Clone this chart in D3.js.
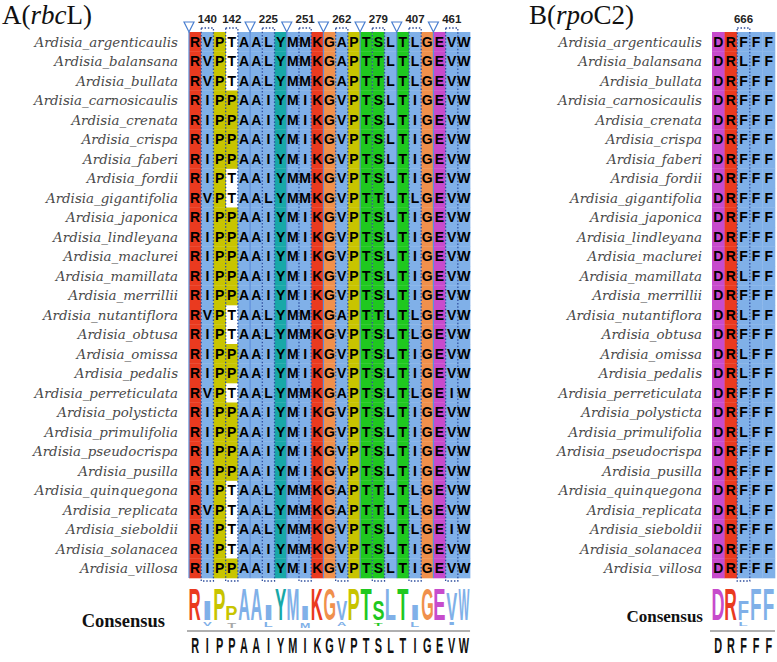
<!DOCTYPE html>
<html>
<head>
<meta charset="utf-8">
<script src="https://cdn.jsdelivr.net/npm/d3@7"></script>
<style>
  body { margin: 0; background: #fff; }
</style>
</head>
<body>
<div id="chart"></div>
<script>
// species (rows, same order in both panels)
const species = [
  "Ardisia_argenticaulis", "Ardisia_balansana", "Ardisia_bullata", "Ardisia_carnosicaulis",
  "Ardisia_crenata", "Ardisia_crispa", "Ardisia_faberi", "Ardisia_fordii",
  "Ardisia_gigantifolia", "Ardisia_japonica", "Ardisia_lindleyana", "Ardisia_maclurei",
  "Ardisia_mamillata", "Ardisia_merrillii", "Ardisia_nutantiflora", "Ardisia_obtusa",
  "Ardisia_omissa", "Ardisia_pedalis", "Ardisia_perreticulata", "Ardisia_polysticta",
  "Ardisia_primulifolia", "Ardisia_pseudocrispa", "Ardisia_pusilla", "Ardisia_quinquegona",
  "Ardisia_replicata", "Ardisia_sieboldii", "Ardisia_solanacea", "Ardisia_villosa"
];

// rbcL alignment (A)
const rbcLSeqs = [
  "RVPTAALYMMKGAPTSLTLGEVW", "RVPTAALYMMKGAPTTLTLGEVW", "RVPTAALYMMKGAPTTLTLGEVW", "RIPPAAIYMIKGVPTSLTIGEVW",
  "RIPPAAIYMIKGVPTSLTIGEVW", "RIPPAAIYMIKGVPTSLTIGEVW", "RIPPAAIYMIKGVPTSLTIGEVW", "RIPTAAIYMMKGVPTSLTIGEVW",
  "RVPTAALYMMKGVPTTLTLGEVW", "RIPPAAIYMIKGVPTSLTIGEVW", "RIPPAAIYMIKGVPTSLTIGEVW", "RIPPAAIYMIKGVPTSLTIGEVW",
  "RIPPAAIYMIKGVPTSLTIGEVW", "RIPPAAIYMIKGVPTSLTIGEVW", "RVPTAALYMMKGAPTTLTLGEVW", "RIPTAALYMMKGVPTSLTLGEVW",
  "RIPPAAIYMIKGVPTSLTIGEVW", "RIPPAAIYMIKGVPTSLTIGEVW", "RVPTAALYMMKGAPTSLTLGEIW", "RIPPAAIYMIKGVPTSLTIGEVW",
  "RIPPAAIYMIKGVPTSLTIGEVW", "RIPPAAIYMIKGVPTSLTIGEVW", "RIPPAAIYMIKGVPTSLTIGEVW", "RIPTAALYMMKGAPTTLTLGEVW",
  "RVPTAALYMMKGAPTTLTLGEVW", "RIPTAALYMMKGVPTSLTLGEIW", "RIPTAAIYMMKGVPTSLTIGEVW", "RIPPAAIYMIKGVPTSLTIGEVW"
];
const rbcLSites = [140, 142, 225, 251, 262, 279, 407, 461];
const rbcLSiteCols = [1, 3, 6, 9, 12, 15, 18, 21];
const rbcLSegments = [5, 3, 3, 3, 3, 3, 3];

// rpoC2 alignment (B)
const rpoC2Seqs = [
  "DRFFF", "DRLFF", "DRFFF", "DRFFF", "DRFFF", "DRFFF", "DRFFF", "DRFFF",
  "DRFFF", "DRFFF", "DRFFF", "DRFFF", "DRLFF", "DRFFF", "DRLFF", "DRFFF",
  "DRLFF", "DRLFF", "DRFFF", "DRFFF", "DRLFF", "DRFFF", "DRFFF", "DRFFF",
  "DRLFF", "DRFFF", "DRFFF", "DRFFF"
];
const rpoC2Sites = [666];
const rpoC2SiteCols = [2];
const rpoC2Segments = [5];

const width = 777, height = 662;
const blockTop = 32, rowH = 19.5;
const logoBase = 620, logoFull = 31;

const svg = d3.select("#chart").append("svg")
  .attr("width", width)
  .attr("height", height)
  .style("font-family", "'Liberation Sans', Arial, sans-serif");

svg.append("rect").attr("width", width).attr("height", height).attr("fill", "#fff");

// clustal-x like colours
const pal = {blue: "#80b0e8", red: "#ea3a1f", green: "#1fc81f", magenta: "#c74bcc",
  orange: "#f0904c", cyan: "#18a8a8", yellow: "#c8c400"};

function resColor(res, colRes) {
  const frac = set => colRes.filter(r => set.includes(r)).length / colRes.length;
  if ("AILMFWVC".includes(res)) return frac("AILMFWVC") > 0.6 ? pal.blue : null;
  if ("KR".includes(res)) return frac("KR") > 0.6 ? pal.red : null;
  if ("DE".includes(res)) return pal.magenta;
  if (res === "G") return pal.orange;
  if (res === "P") return pal.yellow;
  if ("ST".includes(res)) return frac("ST") > 0.5 ? pal.green : null;
  if ("YH".includes(res)) return pal.cyan;
  return null;
}

// glyph ink box, used to stretch logo letters
const ctx = document.createElement("canvas").getContext("2d");
function glyphBox(ch, font) {
  ctx.font = font;
  const m = ctx.measureText(ch);
  return {l: m.actualBoundingBoxLeft, r: m.actualBoundingBoxRight,
    a: m.actualBoundingBoxAscent, d: m.actualBoundingBoxDescent};
}

function stretched(g, ch, cx, w, yb, h, fill, font) {
  const b = glyphBox(ch, font);
  const sx = w / (b.l + b.r), sy = h / (b.a + b.d);
  g.append("text")
    .attr("transform", `translate(${cx - w / 2 + b.l * sx},${yb - b.d * sy}) scale(${sx},${sy})`)
    .attr("font-family", "'Liberation Sans', Arial, sans-serif")
    .attr("font-weight", "bold")
    .attr("font-size", 100)
    .attr("fill", fill)
    .text(ch);
}

function drawPanel(p) {
  const g = svg.append("g");
  const nCols = p.seqs[0].length;
  const x = d3.scaleBand().domain(d3.range(nCols)).range([p.x0, p.x0 + nCols * p.colW]);
  const y = d3.scaleBand().domain(species).range([blockTop, blockTop + species.length * rowH]);
  const columns = d3.range(nCols).map(c => p.seqs.map(s => s[c]));
  const blockBottom = blockTop + species.length * rowH;

  // title
  const t = g.append("text").attr("x", p.titleX).attr("y", 24)
    .attr("font-family", "'Liberation Serif', 'Times New Roman', serif")
    .attr("font-size", 27).attr("fill", "#111");
  t.append("tspan").text(p.title[0]);
  t.append("tspan").attr("font-style", "italic").text(p.title[1]);
  t.append("tspan").text(p.title[2]);

  // row labels
  g.selectAll(".lab").data(species).join("text")
    .attr("x", p.labelX)
    .attr("y", d => y(d) + rowH / 2 + 5)
    .attr("text-anchor", "end")
    .attr("font-family", "'DejaVu Serif', serif")
    .attr("font-style", "italic")
    .attr("font-size", 13.4)
    .attr("fill", "#4a4a4a")
    .text(d => d);

  // cell backgrounds
  p.seqs.forEach((s, i) => {
    s.split("").forEach((res, c) => {
      const col = resColor(res, columns[c]);
      if (!col) return;
      g.append("rect")
        .attr("x", x(c)).attr("y", y(species[i]))
        .attr("width", x.bandwidth() + 0.3).attr("height", rowH + 0.3)
        .attr("fill", col);
    });
  });

  // segment boundaries
  const starts = [0, ...d3.cumsum(p.segments)].slice(0, p.segments.length);
  if (p.segments.length > 1) {
    g.selectAll(".seg").data(starts).join("line")
      .attr("x1", d => x(d)).attr("x2", d => x(d))
      .attr("y1", blockTop).attr("y2", blockBottom)
      .attr("stroke", "#5d8fdc").attr("stroke-width", 1.2);
    g.selectAll(".tri").data(starts).join("path")
      .attr("d", d => `M${x(d) - 5},22 L${x(d) + 5},22 L${x(d)},32 Z`)
      .attr("fill", "#fff").attr("stroke", "#4a7fd0").attr("stroke-width", 1.2);
  }

  // variable sites: dotted boxes and positions
  g.selectAll(".site").data(p.siteCols).join("rect")
    .attr("x", d => x(d)).attr("y", 28)
    .attr("width", x.bandwidth()).attr("height", blockBottom - 28 + 3)
    .attr("fill", "none").attr("stroke", "#2f4f9f")
    .attr("stroke-width", 1.3).attr("stroke-dasharray", "1.5 1.8");
  g.selectAll(".pos").data(p.sites).join("text")
    .attr("x", (d, i) => x(p.siteCols[i]) + x.bandwidth() / 2)
    .attr("y", 23)
    .attr("text-anchor", "middle")
    .attr("font-size", 11.5).attr("font-weight", "bold").attr("fill", "#222")
    .text(d => d);

  // residues
  p.seqs.forEach((s, i) => {
    g.selectAll(null).data(s.split("")).join("text")
      .attr("x", (d, c) => x(c) + x.bandwidth() / 2)
      .attr("y", y(species[i]) + rowH / 2 + 5)
      .attr("text-anchor", "middle")
      .attr("font-size", 14).attr("font-weight", "bold").attr("fill", "#000")
      .text(d => d);
  });

  // consensus logo
  const maxBits = Math.log2(20);
  const font = "bold 100px 'Liberation Sans'";
  columns.forEach((colRes, c) => {
    const counts = d3.rollups(colRes, v => v.length, r => r).sort((a, b) => b[1] - a[1]);
    const n = colRes.length;
    const H = -d3.sum(counts, ([, k]) => (k / n) * Math.log2(k / n));
    const ic = maxBits - H;
    const cx = x(c) + x.bandwidth() / 2;
    counts.forEach(([res, k], j) => {
      const pr = k / n;
      const b = glyphBox(res, font);
      const wf = Math.max(0.55, Math.min(1, (b.l + b.r) / 60));
      const w = x.bandwidth() * 0.9 * wf;
      const colr = resColor(res, colRes) || "#a8a8a8";
      if (j === 0) {
        stretched(g, res, cx, w, logoBase, pr * ic / maxBits * logoFull, colr, font);
      } else {
        const h = Math.max(2, pr * ic / maxBits * logoFull * 0.5);
        stretched(g, res, cx, w * 0.8, logoBase + 3 + h, h, colr, font);
      }
    });
  });

  g.append("line")
    .attr("x1", x(0) - 2).attr("x2", x(nCols - 1) + x.bandwidth())
    .attr("y1", 631).attr("y2", 631)
    .attr("stroke", "#b0b0b0").attr("stroke-width", 2);

  g.append("text")
    .attr("x", p.consX).attr("y", p.consY)
    .attr("text-anchor", "end")
    .attr("font-family", "'Liberation Serif', 'Times New Roman', serif")
    .attr("font-weight", "bold").attr("font-size", p.consSize).attr("fill", "#111")
    .text("Consensus");

  // majority consensus sequence
  const consensus = columns.map(colRes =>
    d3.rollups(colRes, v => v.length, r => r).sort((a, b) => b[1] - a[1])[0][0]);
  g.selectAll(".cons").data(consensus).join("text")
    .attr("transform", (d, c) => `translate(${x(c) + x.bandwidth() / 2},653) scale(0.68,1.4)`)
    .attr("text-anchor", "middle")
    .attr("font-size", 16).attr("font-weight", "bold").attr("fill", "#111")
    .text(d => d);
}

drawPanel({seqs: rbcLSeqs, sites: rbcLSites, siteCols: rbcLSiteCols, segments: rbcLSegments,
  x0: 189, colW: 12.22, labelX: 178, titleX: 2, title: ["A(", "rbc", "L)"],
  consX: 165, consY: 627, consSize: 18.5});
drawPanel({seqs: rpoC2Seqs, sites: rpoC2Sites, siteCols: rpoC2SiteCols, segments: rpoC2Segments,
  x0: 712, colW: 12.6, labelX: 702, titleX: 529, title: ["B(", "rpo", "C2)"],
  consX: 703, consY: 622, consSize: 17});
</script>
</body>
</html>
